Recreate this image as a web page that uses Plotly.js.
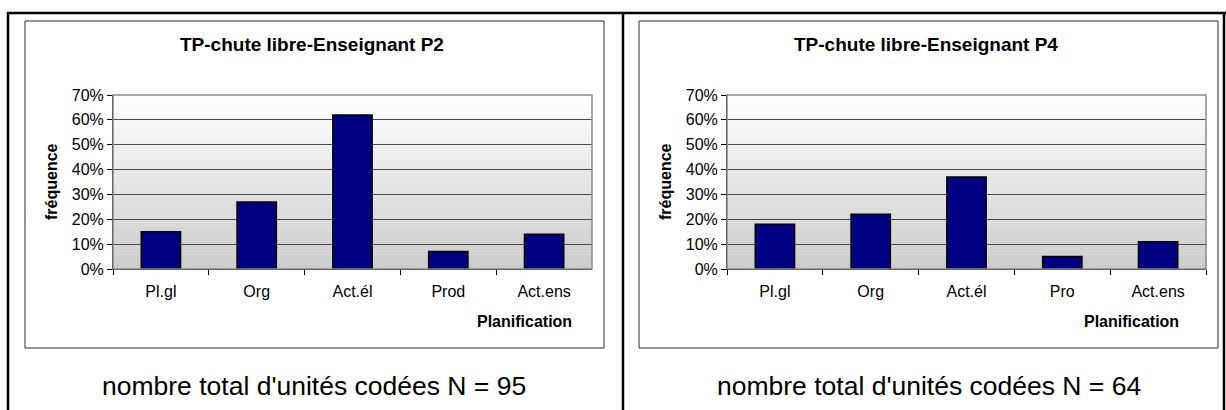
<!DOCTYPE html>
<html>
<head>
<meta charset="utf-8">
<script src="https://cdn.plot.ly/plotly-3.0.1.min.js"></script>
<style>
  html, body { margin: 0; padding: 0; background: #ffffff; }
  #chart { width: 1226px; height: 410px; }
</style>
</head>
<body>
<div id="chart"></div>
<script>
// ---- data ----
const categoriesP2 = ["Pl.gl", "Org", "Act.él", "Prod", "Act.ens"];
const valuesP2 = [0.15, 0.27, 0.62, 0.07, 0.14];
const categoriesP4 = ["Pl.gl", "Org", "Act.él", "Pro", "Act.ens"];
const valuesP4 = [0.18, 0.22, 0.37, 0.05, 0.11];
const titleP2 = "TP-chute libre-Enseignant P2";
const titleP4 = "TP-chute libre-Enseignant P4";
const yTitle = "fréquence";
const xTitle = "Planification";
const noteP2 = "nombre total d'unités codées N = 95";
const noteP4 = "nombre total d'unités codées N = 64";

// ---- layout helpers (pixel -> paper) ----
const W = 1226, H = 410;
const px = x => x / W;
const py = y => 1 - y / H;
const FONT = "Arial, 'Liberation Sans', sans-serif";

const plotL1 = 113, plotR1 = 592, plotL2 = 727, plotR2 = 1206;
const plotT = 95, plotB = 269;

function barTrace(cats, vals, xa, ya) {
  return {
    type: "bar", x: cats, y: vals, xaxis: xa, yaxis: ya,
    width: 0.41,
    marker: { color: "#000080", line: { color: "#000000", width: 1.5 } },
    hoverinfo: "x+y", showlegend: false
  };
}

function xAxis(l, r, anchor) {
  return {
    domain: [px(l), px(r)], anchor: anchor, type: "category",
    range: [-0.5, 4.5], showgrid: false, zeroline: false,
    showline: true, linecolor: "#000000", linewidth: 1,
    ticks: "outside", tickson: "boundaries", ticklen: 5, tickcolor: "#000000",
    ticklabelstandoff: 8,
    tickfont: { family: FONT, size: 16, color: "#000000" },
    fixedrange: true
  };
}
function yAxis(anchor) {
  return {
    domain: [py(plotB), py(plotT)], anchor: anchor,
    range: [0, 0.7], dtick: 0.1, tick0: 0, tickformat: ".0%",
    showgrid: true, gridcolor: "#4a4a4a", gridwidth: 1, zeroline: false,
    showline: true, linecolor: "#000000", linewidth: 1,
    ticks: "outside", ticklen: 5, tickcolor: "#000000",
    tickfont: { family: FONT, size: 16, color: "#000000" },
    fixedrange: true
  };
}

// gradient background bands (style only)
const shapes = [];
const nBands = 60;
function gradient(xref, yref) {
  for (let i = 0; i < nBands; i++) {
    const t = (i + 0.5) / nBands; // 0 bottom -> 1 top
    const c = Math.round(0xcc + (0xff - 0xcc) * t);
    const col = `rgb(${c},${c},${c})`;
    shapes.push({
      type: "rect", xref: xref + " domain", yref: yref + " domain",
      x0: 0, x1: 1, y0: i / nBands, y1: (i + 1) / nBands + 0.002,
      fillcolor: col, line: { width: 0 }, layer: "below"
    });
  }
}
gradient("x", "y");
gradient("x2", "y2");

// plot-area border (gray, top/right)
[["x", "y"], ["x2", "y2"]].forEach(([xr, yr]) => {
  shapes.push({
    type: "rect", xref: xr + " domain", yref: yr + " domain",
    x0: 0, x1: 1, y0: 0, y1: 1, line: { color: "#8a8a8a", width: 1.5 },
    fillcolor: "rgba(0,0,0,0)", layer: "above"
  });
});

// chart boxes
[[25, 604], [639, 1218]].forEach(([l, r]) => {
  shapes.push({
    type: "rect", xref: "paper", yref: "paper",
    x0: px(l), x1: px(r), y0: py(348), y1: py(21),
    line: { color: "#2a2a2a", width: 1 }, fillcolor: "rgba(0,0,0,0)", layer: "below"
  });
});

// outer table frame
const frame = { color: "#000000", width: 2.5 };
shapes.push({ type: "line", xref: "paper", yref: "paper", x0: px(7), x1: px(1226), y0: py(13), y1: py(13), line: frame });
shapes.push({ type: "line", xref: "paper", yref: "paper", x0: px(8), x1: px(8), y0: py(12), y1: py(412), line: frame });
shapes.push({ type: "line", xref: "paper", yref: "paper", x0: px(623), x1: px(623), y0: py(12), y1: py(412), line: frame });
shapes.push({ type: "line", xref: "paper", yref: "paper", x0: px(1224), x1: px(1224), y0: py(12), y1: py(412), line: frame });

const annotations = [];
function addTexts(cx, title, yAxisX, xTitleRight, note, noteX) {
  annotations.push({ xref: "paper", yref: "paper", x: px(cx), y: py(45), text: "<b>" + title + "</b>",
    showarrow: false, xanchor: "center", yanchor: "middle",
    font: { family: FONT, size: 19, color: "#000000" } });
  annotations.push({ xref: "paper", yref: "paper", x: px(yAxisX), y: py(182), text: "<b>" + yTitle + "</b>",
    showarrow: false, textangle: -90, xanchor: "center", yanchor: "middle",
    font: { family: FONT, size: 16, color: "#000000" } });
  annotations.push({ xref: "paper", yref: "paper", x: px(xTitleRight), y: py(321), text: "<b>" + xTitle + "</b>",
    showarrow: false, xanchor: "right", yanchor: "middle",
    font: { family: FONT, size: 16, color: "#000000" } });
  annotations.push({ xref: "paper", yref: "paper", x: px(noteX), y: py(386), text: note,
    showarrow: false, xanchor: "center", yanchor: "middle",
    font: { family: FONT, size: 26.5, color: "#000000" } });
}
addTexts(312, titleP2, 52, 574, noteP2, 314);
addTexts(926, titleP4, 666, 1181, noteP4, 929);

const data = [
  barTrace(categoriesP2, valuesP2, "x", "y"),
  barTrace(categoriesP4, valuesP4, "x2", "y2")
];

const layout = {
  width: W, height: H,
  margin: { l: 0, r: 0, t: 0, b: 0, pad: 0 },
  paper_bgcolor: "#ffffff", plot_bgcolor: "rgba(0,0,0,0)",
  showlegend: false,
  xaxis: xAxis(plotL1, plotR1, "y"),
  yaxis: yAxis("x"),
  xaxis2: xAxis(plotL2, plotR2, "y2"),
  yaxis2: yAxis("x2"),
  shapes: shapes,
  annotations: annotations,
  font: { family: FONT, color: "#000000" }
};

Plotly.newPlot("chart", data, layout, { displayModeBar: false, staticPlot: true });
</script>
</body>
</html>
